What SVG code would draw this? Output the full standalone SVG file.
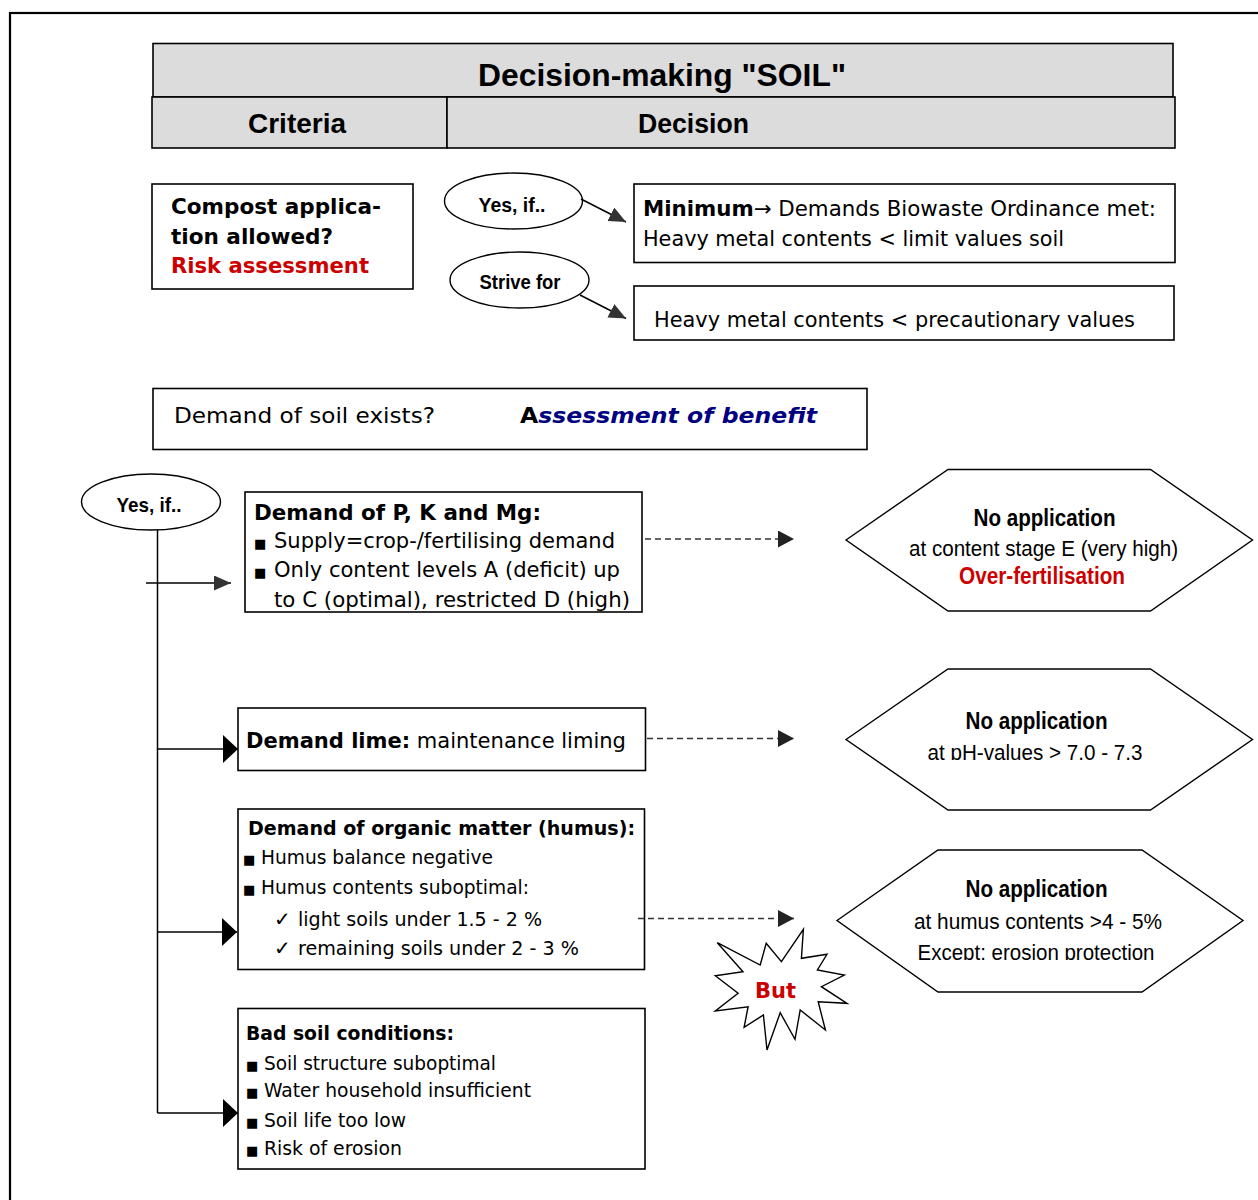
<svg xmlns="http://www.w3.org/2000/svg" width="1258" height="1200" viewBox="0 0 1258 1200">
<style>
.box{fill:#fff;stroke:#000;stroke-width:1.6}
.hdr{fill:#dcdcdc;stroke:#000;stroke-width:1.6}
.hex{fill:#fff;stroke:#000;stroke-width:1.4}
.ell{fill:#fff;stroke:#000;stroke-width:1.4}
.ar{font-family:"Liberation Sans",Arial,sans-serif;font-weight:bold;fill:#000}
.nar{font-family:"Liberation Sans Narrow","Liberation Sans",Arial,sans-serif;fill:#000}
.tb{font-family:"DejaVu Sans Condensed","DejaVu Sans",Verdana,sans-serif;fill:#000}
.b{font-weight:bold}
.red{fill:#cc0000}
.bul{font-family:"DejaVu Sans",sans-serif;font-size:13px;fill:#000}
.chk{font-family:"DejaVu Sans",sans-serif;font-size:20px;fill:#000}
.con{stroke:#000;stroke-width:1.5;fill:none}
.dash{stroke:#333;stroke-width:1.3;fill:none;stroke-dasharray:6 4}
</style>
<defs>
<marker id="mTri" markerUnits="userSpaceOnUse" markerWidth="18" markerHeight="16" refX="17" refY="7.5" orient="auto"><path d="M0,0 L17,7.5 L0,15 z" fill="#333"/></marker>
<marker id="mDash" markerUnits="userSpaceOnUse" markerWidth="17" markerHeight="18" refX="16" refY="8.5" orient="auto"><path d="M0,0 L16,8.5 L0,17 z" fill="#222"/></marker>
<marker id="mBig" markerUnits="userSpaceOnUse" markerWidth="16" markerHeight="29" refX="15" refY="14" orient="auto"><path d="M0,0 L15,14 L0,28 z" fill="#000"/></marker>
<clipPath id="c2"><rect x="840" y="660" width="420" height="100"/></clipPath>
<clipPath id="c3"><rect x="830" y="840" width="420" height="120"/></clipPath>
<clipPath id="c1"><rect x="240" y="490" width="410" height="121"/></clipPath>
</defs>
<rect x="10" y="13" width="1260" height="1200" fill="none" stroke="#000" stroke-width="2.2"/>

<g id="header">
<rect class="hdr" x="153" y="43.5" width="1020" height="53.5"/>
<text class="ar" x="662" y="86" font-size="31" text-anchor="middle" textLength="368" lengthAdjust="spacingAndGlyphs">Decision-making "SOIL"</text>
<rect class="hdr" x="152" y="97" width="295" height="51"/>
<rect class="hdr" x="447" y="97" width="728" height="51"/>
<text class="ar" x="297" y="133" font-size="27" text-anchor="middle" textLength="98" lengthAdjust="spacingAndGlyphs">Criteria</text>
<text class="ar" x="693.5" y="133" font-size="27" text-anchor="middle" textLength="111" lengthAdjust="spacingAndGlyphs">Decision</text>
</g>

<g id="compost">
<rect class="box" x="152" y="184" width="261" height="105"/>
<text class="tb b" x="171" y="214" font-size="22" textLength="210" lengthAdjust="spacingAndGlyphs">Compost applica-</text>
<text class="tb b" x="171" y="243.5" font-size="22" textLength="162" lengthAdjust="spacingAndGlyphs">tion allowed?</text>
<text class="tb b red" x="171" y="273" font-size="22" textLength="198" lengthAdjust="spacingAndGlyphs">Risk assessment</text>
</g>

<g id="yes-top">
<ellipse class="ell" cx="513.5" cy="201" rx="69" ry="28"/>
<text class="nar b" x="512" y="212" font-size="21" text-anchor="middle" textLength="67" lengthAdjust="spacingAndGlyphs">Yes, if..</text>
</g>
<g id="strive">
<ellipse class="ell" cx="519.5" cy="280" rx="69.5" ry="28"/>
<text class="nar b" x="520" y="289" font-size="21" text-anchor="middle" textLength="81" lengthAdjust="spacingAndGlyphs">Strive for</text>
</g>

<g id="minimum">
<rect class="box" x="634" y="184" width="541" height="78.5"/>
<text class="tb" x="643" y="216" font-size="21" textLength="513" lengthAdjust="spacingAndGlyphs"><tspan class="b">Minimum</tspan>→ Demands Biowaste Ordinance met:</text>
<text class="tb" x="643" y="245.5" font-size="21" textLength="421" lengthAdjust="spacingAndGlyphs">Heavy metal contents &lt; limit values soil</text>
</g>

<g id="precaution">
<rect class="box" x="634" y="286" width="540" height="54"/>
<text class="tb" x="654" y="326.5" font-size="21" textLength="481" lengthAdjust="spacingAndGlyphs">Heavy metal contents &lt; precautionary values</text>
</g>

<g id="demand-soil">
<rect class="box" x="153" y="388.5" width="714" height="61"/>
<text class="tb" x="174" y="423" font-size="22" textLength="261" lengthAdjust="spacingAndGlyphs">Demand of soil exists?</text>
<text class="tb b" x="520" y="423" font-size="22" textLength="297" lengthAdjust="spacingAndGlyphs">A<tspan fill="#000080" font-style="italic">ssessment of benefit</tspan></text>
</g>

<g id="yes-left">
<ellipse class="ell" cx="151" cy="502" rx="69.5" ry="28"/>
<text class="nar b" x="149" y="512" font-size="21" text-anchor="middle" textLength="65" lengthAdjust="spacingAndGlyphs">Yes, if..</text>
</g>

<g id="pkmg">
<rect class="box" x="245" y="492" width="397" height="120"/>
<g clip-path="url(#c1)">
<text class="tb b" x="254" y="520" font-size="21" textLength="287" lengthAdjust="spacingAndGlyphs">Demand of P, K and Mg:</text>
<text class="bul" x="254" y="548">■</text>
<text class="tb" x="274" y="548" font-size="21" textLength="341" lengthAdjust="spacingAndGlyphs">Supply=crop-/fertilising demand</text>
<text class="bul" x="254" y="577">■</text>
<text class="tb" x="274" y="577" font-size="21" textLength="346" lengthAdjust="spacingAndGlyphs">Only content levels A (deficit) up</text>
<text class="tb" x="274" y="606.5" font-size="21" textLength="356" lengthAdjust="spacingAndGlyphs">to C (optimal), restricted D (high)</text>
</g>
</g>

<g id="lime">
<rect class="box" x="238" y="708" width="407.5" height="62.5"/>
<text class="tb" x="246" y="748" font-size="21" textLength="380" lengthAdjust="spacingAndGlyphs"><tspan class="b">Demand lime:</tspan> maintenance liming</text>
</g>

<g id="humus">
<rect class="box" x="238" y="809" width="406.5" height="160.5"/>
<text class="tb b" x="248" y="835" font-size="20" textLength="387" lengthAdjust="spacingAndGlyphs">Demand of organic matter (humus):</text>
<text class="bul" x="243" y="864">■</text>
<text class="tb" x="261" y="864" font-size="20" textLength="232" lengthAdjust="spacingAndGlyphs">Humus balance negative</text>
<text class="bul" x="243" y="894">■</text>
<text class="tb" x="261" y="894" font-size="20" textLength="268" lengthAdjust="spacingAndGlyphs">Humus contents suboptimal:</text>
<text class="chk" x="274" y="926">✓</text>
<text class="tb" x="298" y="926" font-size="20" textLength="244" lengthAdjust="spacingAndGlyphs">light soils under 1.5 - 2 %</text>
<text class="chk" x="274" y="955">✓</text>
<text class="tb" x="298" y="955" font-size="20" textLength="281" lengthAdjust="spacingAndGlyphs">remaining soils under 2 - 3 %</text>
</g>

<g id="badsoil">
<rect class="box" x="238" y="1008.5" width="407" height="160.5"/>
<text class="tb b" x="246" y="1040" font-size="20" textLength="208" lengthAdjust="spacingAndGlyphs">Bad soil conditions:</text>
<text class="bul" x="246" y="1070">■</text>
<text class="tb" x="264" y="1070" font-size="20" textLength="232" lengthAdjust="spacingAndGlyphs">Soil structure suboptimal</text>
<text class="bul" x="246" y="1097">■</text>
<text class="tb" x="264" y="1097" font-size="20" textLength="267" lengthAdjust="spacingAndGlyphs">Water household insufficient</text>
<text class="bul" x="246" y="1127">■</text>
<text class="tb" x="264" y="1127" font-size="20" textLength="142" lengthAdjust="spacingAndGlyphs">Soil life too low</text>
<text class="bul" x="246" y="1155">■</text>
<text class="tb" x="264" y="1155" font-size="20" textLength="138" lengthAdjust="spacingAndGlyphs">Risk of erosion</text>
</g>

<g id="hex1">
<polygon class="hex" points="846,540 948,469.5 1150.5,469.5 1252.5,540 1150.5,611 948,611"/>
<text class="nar b" x="1044.5" y="526" font-size="23" text-anchor="middle" textLength="142" lengthAdjust="spacingAndGlyphs">No application</text>
<text class="nar" x="1043.5" y="555.5" font-size="22" text-anchor="middle" textLength="269" lengthAdjust="spacingAndGlyphs">at content stage E (very high)</text>
<text class="nar b red" x="1042" y="584" font-size="23" text-anchor="middle" textLength="166" lengthAdjust="spacingAndGlyphs">Over-fertilisation</text>
</g>

<g id="hex2">
<polygon class="hex" points="846,739.5 948,669 1150.5,669 1252.5,739.5 1150.5,810 948,810"/>
<text class="nar b" x="1036.5" y="729" font-size="23" text-anchor="middle" textLength="142" lengthAdjust="spacingAndGlyphs">No application</text>
<text class="nar" x="1035" y="759.5" font-size="22" text-anchor="middle" textLength="215" lengthAdjust="spacingAndGlyphs" clip-path="url(#c2)">at pH-values &gt; 7.0 - 7.3</text>
</g>

<g id="hex3">
<polygon class="hex" points="837,920.5 938,850 1142,850 1243,920.5 1142,992 938,992"/>
<text class="nar b" x="1036.5" y="897" font-size="23" text-anchor="middle" textLength="142" lengthAdjust="spacingAndGlyphs">No application</text>
<text class="nar" x="1038" y="928.5" font-size="22" text-anchor="middle" textLength="248" lengthAdjust="spacingAndGlyphs">at humus contents &gt;4 - 5%</text>
<text class="nar" x="1036" y="960" font-size="22" text-anchor="middle" textLength="237" lengthAdjust="spacingAndGlyphs" clip-path="url(#c3)">Except: erosion protection</text>
</g>

<g id="but">
<polygon class="hex" points="803.4,929.3 801.4,958.3 827,954.3 817.4,970 844.3,975 821.4,986.7 847,1003.3 818.2,1001.7 825.4,1030 800.2,1010 795,1039.3 780.2,1012.7 767,1050 763.4,1015 744.1,1027.3 748.1,1006.7 715.3,1011 738.1,993.3 715.3,975.7 743,971.7 717.3,942.7 760.2,965 766.2,943.3 781.4,961.7"/>
<text class="tb b red" x="775.5" y="998" font-size="21" text-anchor="middle" textLength="41" lengthAdjust="spacingAndGlyphs">But</text>
</g>

<g id="connectors">
<line class="con" x1="581" y1="199" x2="626" y2="222" stroke="#333" marker-end="url(#mTri)"/>
<line class="con" x1="580" y1="295" x2="626" y2="318.5" stroke="#333" marker-end="url(#mTri)"/>
<line class="con" x1="157.5" y1="530" x2="157.5" y2="1113"/>
<line class="con" x1="146" y1="583" x2="231" y2="583" stroke="#333" marker-end="url(#mTri)"/>
<line class="con" x1="157.5" y1="749" x2="238" y2="749" marker-end="url(#mBig)"/>
<line class="con" x1="157.5" y1="932" x2="237" y2="932" marker-end="url(#mBig)"/>
<line class="con" x1="157.5" y1="1113" x2="238" y2="1113" marker-end="url(#mBig)"/>
<line class="dash" x1="645" y1="539" x2="794" y2="539" marker-end="url(#mDash)"/>
<line class="dash" x1="647" y1="738.5" x2="794" y2="738.5" marker-end="url(#mDash)"/>
<line class="dash" x1="638" y1="918.5" x2="794" y2="918.5" marker-end="url(#mDash)"/>
</g>
</svg>
